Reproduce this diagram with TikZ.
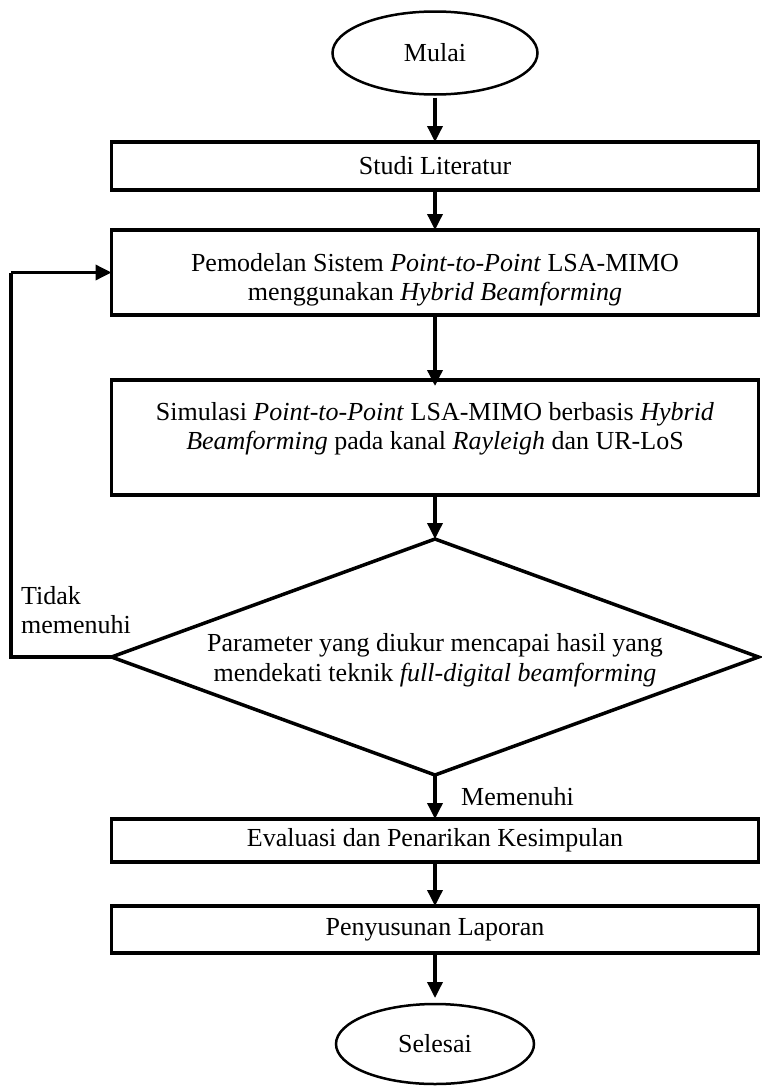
\documentclass[tikz,border=0pt]{standalone}
\usepackage{fontspec}
\setmainfont{Liberation Serif}
\usetikzlibrary{arrows.meta,shapes.geometric}

\begin{document}
\begin{tikzpicture}[x=1pt,y=-1pt,
  txt/.style={font=\fontsize{26}{29.5}\selectfont, align=center, inner sep=0pt},
  box/.style={draw, line width=3.5pt, minimum width=647pt, inner sep=0pt, outer sep=0pt, txt},
  term/.style={draw, ellipse, line width=2.5pt, inner sep=0pt, outer sep=0pt, txt},
  flow/.style={line width=3.5pt, -{Triangle[length=16pt,width=15pt]}},
  link/.style={line width=3.5pt},
]
\useasboundingbox (0,0) rectangle (761,1092);

% terminals
\node[term, minimum width=205pt, minimum height=83pt] (start) at (435,53) {Mulai};
\node[term, minimum width=198pt, minimum height=80pt] (stop) at (435,1044) {Selesai};

% process boxes
\node[box, minimum height=48pt] (lit) at (435,166) {Studi Literatur};
\node[box, minimum height=85pt] (model) at (435,272.5) {};
\node[txt] (modeltxt) at (435,280) {Pemodelan Sistem \textit{Point-to-Point} LSA-MIMO\\menggunakan \textit{Hybrid Beamforming}};
\node[box, minimum height=115pt] (sim) at (435,437.5) {};
\node[txt] (simtxt) at (435,429) {Simulasi \textit{Point-to-Point} LSA-MIMO berbasis \textit{Hybrid}\\\textit{Beamforming} pada kanal \textit{Rayleigh} dan UR-LoS};
\node[box, minimum height=43pt] (eval) at (435,840.5) {Evaluasi dan Penarikan Kesimpulan};
\node[box, minimum height=47pt] (report) at (435,929.5) {Penyusunan Laporan};

% decision
\node[draw, diamond, line width=3.5pt, inner sep=0pt, outer sep=0pt,
      minimum width=647pt, minimum height=236pt, aspect=2.74] (check) at (435,657) {};
\node[txt] (checktxt) at (435,660) {Parameter yang diukur mencapai hasil yang\\mendekati teknik \textit{full-digital beamforming}};

% branch labels
\node[txt, align=left, anchor=west] (nolbl) at (21,610) {Tidak\\memenuhi};
\node[txt, anchor=west] (yeslbl) at (461,797) {Memenuhi};

% main flow
\draw[flow, shorten <=3pt] (start.south) -- (lit.north);
\draw[flow] (lit.south) -- (model.north);
\draw[flow] (model.south) -- ([yshift=-6pt]sim.north);
\draw[flow] (sim.south) -- (check.north);
\draw[flow] (check.south) -- (eval.north);
\draw[flow] (eval.south) -- (report.north);
\draw[flow, shorten >=6pt] (report.south) -- (stop.north);

% feedback loop
\coordinate (loopbot) at (11,657);
\coordinate (looptop) at (11,272.5);
\draw[link] (check.west) -- (loopbot) -- (looptop);
\draw[flow] (looptop) -- (model.west);
\end{tikzpicture}
\end{document}
